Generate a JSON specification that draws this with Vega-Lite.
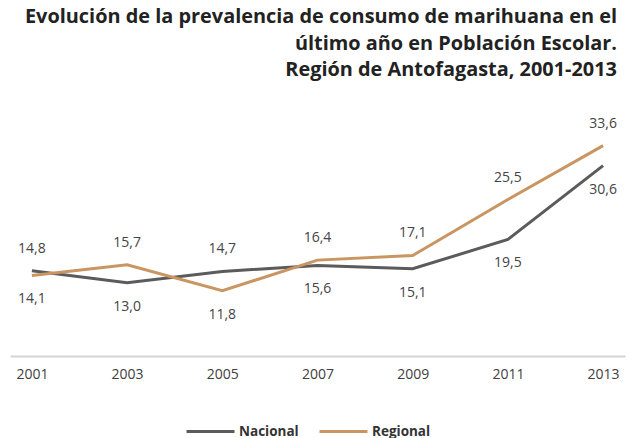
{
  "$schema": "https://vega.github.io/schema/vega-lite/v6.json",
  "width": 615,
  "height": 253,
  "padding": {"left": 10, "right": 2, "top": 7, "bottom": 0},
  "background": "white",
  "config": {
    "locale": {"number": {"decimal": ",", "thousands": ".", "grouping": [3], "currency": ["", " €"]}},
    "view": {"stroke": null},
    "font": "Open Sans"
  },
  "title": {
    "text": ["Evolución de la prevalencia de consumo de marihuana en el", "último año en Población Escolar.", "Región de Antofagasta, 2001-2013"],
    "anchor": "end",
    "align": "right",
    "dx": -8,
    "fontSize": 19.9,
    "fontWeight": "bold",
    "font": "Open Sans",
    "lineHeight": 26.5,
    "offset": 23,
    "color": "#222222"
  },
  "data": {
    "values": [
      {"year": "2001", "serie": "Nacional", "value": 14.8},
      {"year": "2003", "serie": "Nacional", "value": 13.0},
      {"year": "2005", "serie": "Nacional", "value": 14.7},
      {"year": "2007", "serie": "Nacional", "value": 15.6},
      {"year": "2009", "serie": "Nacional", "value": 15.1},
      {"year": "2011", "serie": "Nacional", "value": 19.5},
      {"year": "2013", "serie": "Nacional", "value": 30.6},
      {"year": "2001", "serie": "Regional", "value": 14.1},
      {"year": "2003", "serie": "Regional", "value": 15.7},
      {"year": "2005", "serie": "Regional", "value": 11.8},
      {"year": "2007", "serie": "Regional", "value": 16.4},
      {"year": "2009", "serie": "Regional", "value": 17.1},
      {"year": "2011", "serie": "Regional", "value": 25.5},
      {"year": "2013", "serie": "Regional", "value": 33.6}
    ]
  },
  "transform": [
    {"joinaggregate": [{"op": "max", "field": "value", "as": "maxv"}], "groupby": ["year"]}
  ],
  "encoding": {
    "x": {
      "field": "year",
      "type": "ordinal",
      "scale": {"type": "point", "padding": 0.23},
      "axis": {
        "title": null,
        "labelAngle": 0,
        "ticks": false,
        "grid": false,
        "domainColor": "#d4d4d4",
        "domainWidth": 2,
        "labelFontSize": 14,
        "labelColor": "#404040",
        "labelPadding": 11
      }
    },
    "y": {
      "field": "value",
      "type": "quantitative",
      "scale": {"domain": [2, 40], "nice": false, "zero": false},
      "axis": null
    }
  },
  "layer": [
    {
      "mark": {"type": "line", "strokeWidth": 3},
      "encoding": {
        "color": {
          "field": "serie",
          "type": "nominal",
          "scale": {"domain": ["Nacional", "Regional"], "range": ["#5b5b5b", "#c99560"]},
          "legend": {
            "orient": "none",
            "legendX": 175,
            "legendY": 303,
            "direction": "horizontal",
            "title": null,
            "symbolType": "stroke",
            "symbolSize": 2300,
            "symbolStrokeWidth": 3,
            "labelFontWeight": "bold",
            "labelFontSize": 13.5,
            "labelColor": "#333333",
            "columnPadding": 14,
            "labelOffset": 3
          }
        }
      }
    },
    {
      "transform": [{"filter": "datum.value == datum.maxv"}],
      "mark": {"type": "text", "dy": -22, "fontSize": 14, "color": "#444444"},
      "encoding": {"text": {"field": "value", "type": "quantitative", "format": ".1f"}}
    },
    {
      "transform": [{"filter": "datum.value < datum.maxv"}],
      "mark": {"type": "text", "dy": 24, "fontSize": 14, "color": "#444444"},
      "encoding": {"text": {"field": "value", "type": "quantitative", "format": ".1f"}}
    }
  ]
}
